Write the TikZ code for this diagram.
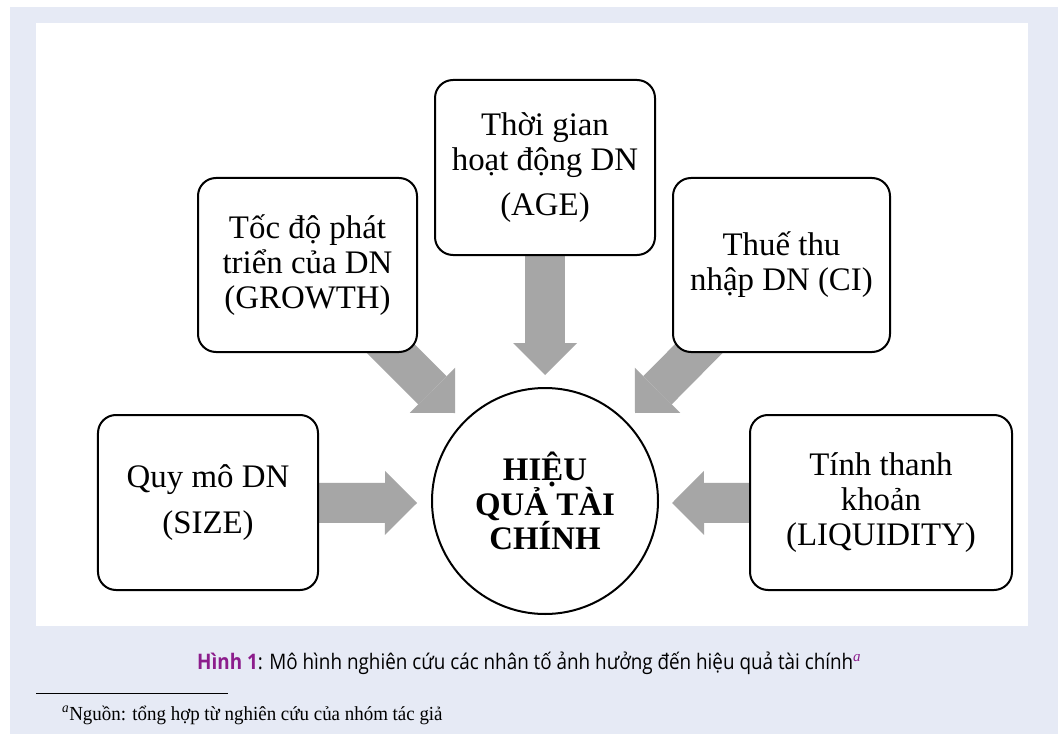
\documentclass[tikz,border=0pt]{standalone}
\usepackage{fontspec}
\setmainfont{Liberation Serif}
\newfontfamily\capfont[FakeStretch=0.88]{Open Sans}
\newfontfamily\fnfont[FakeStretch=0.95]{Liberation Serif}
\usetikzlibrary{arrows.meta,calc}
\definecolor{pagebg}{HTML}{E6EAF5}
\definecolor{arrowgray}{HTML}{A6A6A6}
\definecolor{figpurple}{HTML}{8C1D8C}
\pgfdeclarelayer{bglayer}
\pgfdeclarelayer{arrowlayer}
\pgfsetlayers{bglayer,arrowlayer,main}
\tikzset{
  factorbox/.style={draw=black, line width=2bp, rounded corners=18bp, fill=white,
    align=center, inner sep=0pt, font=\fontsize{33}{35}\selectfont},
  centercircle/.style={circle, draw=black, line width=2bp, fill=white,
    minimum size=226bp, inner sep=0pt, align=center,
    font=\fontsize{33}{35}\selectfont\bfseries},
  blockarrow/.style={draw=arrowgray, line width=40bp,
    -{Triangle[length=32bp,width=64bp,line width=0pt]}},
}
\begin{document}
\begin{tikzpicture}[x=1bp,y=-1bp]
\useasboundingbox (0,0) rectangle (1058,734);
\begin{pgfonlayer}{bglayer}
  \fill[white] (0,0) rectangle (1058,734);
  \fill[pagebg] (10,7) rectangle (1058,734);
  \fill[white] (36,23) rectangle (1028,626);
\end{pgfonlayer}

\node[factorbox, minimum width=220bp, minimum height=175bp] (age) at (545,167.5)
  {Thời gian\\hoạt động DN\\[10bp](AGE)};
\node[factorbox, minimum width=219bp, minimum height=174bp] (growth) at (307.5,265)
  {Tốc độ phát\\triển của DN\\(GROWTH)};
\node[factorbox, minimum width=217bp, minimum height=174bp] (ci) at (781.5,265)
  {Thuế thu\\nhập DN (CI)};
\node[factorbox, minimum width=220bp, minimum height=175bp] (size) at (208,502.5)
  {Quy mô DN\\[12bp](SIZE)};
\node[factorbox, minimum width=262bp, minimum height=175bp] (liq) at (881,502.5)
  {Tính thanh\\khoản\\(LIQUIDITY)};
\node[centercircle] (hq) at (545,501) {HIỆU\\QUẢ TÀI\\CHÍNH};

\coordinate (tAge) at (545,375);
\coordinate (tGrowth) at (455,413);
\coordinate (tCi) at (635,413);
\coordinate (tSize) at (417,503);
\coordinate (tLiq) at (672,503);

\begin{pgfonlayer}{arrowlayer}
  \draw[blockarrow] (age.center) -- (tAge);
  \draw[blockarrow] (growth.center) -- (tGrowth);
  \draw[blockarrow] (ci.center) -- (tCi);
  \draw[blockarrow] (size.center) -- (tSize);
  \draw[blockarrow] (liq.center) -- (tLiq);
\end{pgfonlayer}

\node[anchor=base west, inner sep=0pt, font=\capfont\fontsize{21.5}{24}\selectfont] (caption) at (197,669)
  {\textcolor{figpurple}{\textbf{Hình 1}}: Mô hình nghiên cứu các nhân tố ảnh hưởng đến hiệu quả tài chính\textsuperscript{\rmfamily\itshape\textcolor{figpurple}{a}}};

\draw[line width=1bp, black] (36,693) -- (228,693);
\node[anchor=base west, inner sep=0pt, font=\fnfont\fontsize{20}{22}\selectfont] (footnote) at (62,720)
  {\textsuperscript{\itshape a}Nguồn: tổng hợp từ nghiên cứu của nhóm tác giả};
\end{tikzpicture}
\end{document}
